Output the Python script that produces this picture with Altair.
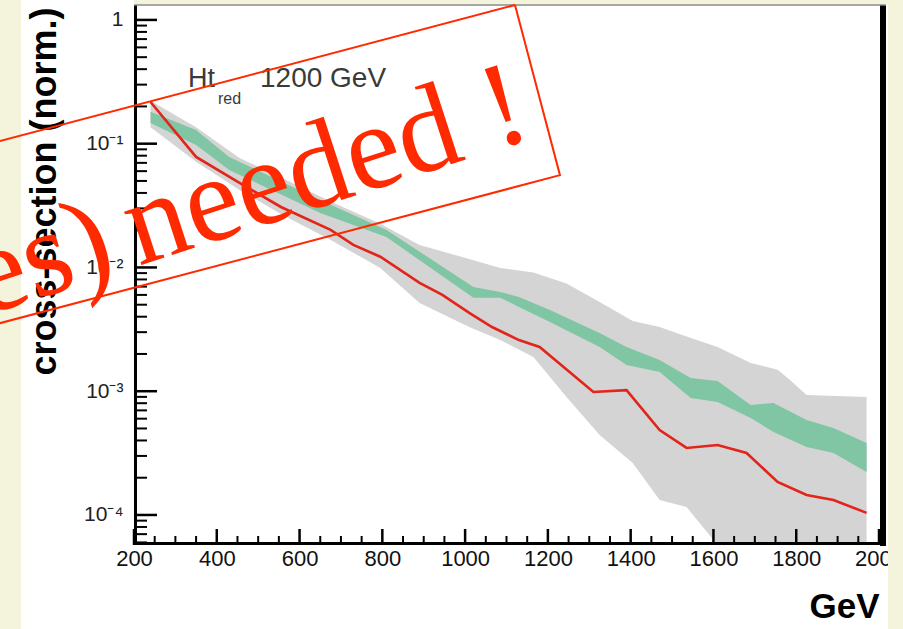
import math
import altair as alt
import pandas as pd

# ---------------- data ----------------
red_gev = [240, 350, 455, 555, 675, 730, 795, 890, 945, 1010, 1065, 1130, 1180,
           1310, 1390, 1470, 1535, 1610, 1680, 1755, 1825, 1890, 1970]
red_val = [0.217, 0.0782, 0.0482, 0.0308, 0.0201, 0.0152, 0.0122, 0.0075, 0.0060,
           0.00429, 0.0033, 0.00259, 0.00228, 0.000986, 0.00102, 0.000486, 0.000348,
           0.000368, 0.000317, 0.000185, 0.000145, 0.000132, 0.000104]

green_gev = [240, 350, 430, 650, 810, 1020, 1085, 1130, 1205, 1325, 1390, 1470,
             1545, 1610, 1690, 1745, 1825, 1890, 1970]
green_hi = [0.181, 0.129, 0.0782, 0.0351, 0.0201, 0.00695, 0.00634, 0.00578, 0.00454,
            0.00296, 0.00228, 0.00179, 0.00128, 0.00121, 0.000774, 0.000804, 0.000586,
            0.000505, 0.000382]
green_lo = [0.147, 0.0977, 0.0614, 0.0275, 0.0176, 0.00568, 0.00568, 0.0048, 0.00363,
            0.00228, 0.00163, 0.00143, 0.000881, 0.000818, 0.000608, 0.000469, 0.000354,
            0.000317, 0.000222]

gray_gev = [240, 350, 455, 555, 675, 795, 890, 1010, 1085, 1165, 1245, 1325, 1405,
            1470, 1535, 1610, 1690, 1755, 1785, 1825, 1970]
gray_hi = [0.222, 0.136, 0.0767, 0.0533, 0.0341, 0.0225, 0.0152, 0.0117, 0.00991,
           0.00912, 0.00743, 0.00526, 0.0037, 0.0033, 0.00277, 0.00228, 0.00169,
           0.00149, 0.00123, 0.000933, 0.000899]
gray_lo = [0.136, 0.0713, 0.0423, 0.027, 0.0167, 0.00991, 0.00516, 0.0033, 0.00259,
           0.00189, 0.000899, 0.000443, 0.000263, 0.000132, 0.000116, 0.0000573,
           0.0000299, 0.0000226, 0.00002, 0.0000171, 0.00000977]

x_major = [200, 400, 600, 800, 1000, 1200, 1400, 1600, 1800, 2000]
x_minor = [v for v in range(250, 2000, 50) if v % 200 != 0]
y_major = [1e-4, 1e-3, 1e-2, 1e-1, 1.0]
y_major_labels = ["10⁻⁴", "10⁻³", "10⁻²", "10⁻¹", "1"]
Y_MIN, Y_MAX = 5.72e-5, 1.32
y_minor = [k * 10.0 ** e for e in range(-5, 1) for k in range(2, 10)
           if Y_MIN <= k * 10.0 ** e <= Y_MAX]

annot_main = "1200 GeV"
annot_var = "Ht"
annot_sub = "red"
stamp_left = "es)"
stamp_right = "needed !"

# ---------------- layout ----------------
W, H = 745, 540
PAD = {"left": 134, "top": 5, "right": 24, "bottom": 84}
RED = "#e3241a"
STAMP = "#ff2a00"
YELLOW = "#f4f4dc"
FONT = "Liberation Sans"

xs = alt.Scale(domain=[200, 2000], nice=False, zero=False)
ys = alt.Scale(type="log", domain=[Y_MIN, Y_MAX], nice=False)

one = pd.DataFrame({"k": [0]})

label_expr = "'" + y_major_labels[0] + "'"
for v, lab in zip(y_major[1:], y_major_labels[1:]):
    label_expr = f"datum.value >= {v * 0.5} ? '{lab}' : ({label_expr})"

red_df = pd.DataFrame({"gev": red_gev, "val": red_val})
green_df = pd.DataFrame({"gev": green_gev, "hi": green_hi, "lo": green_lo})
gray_df = pd.DataFrame({"gev": gray_gev, "hi": gray_hi, "lo": gray_lo})

x_axis = alt.Axis(values=x_major, format="d", domain=False, ticks=False, grid=False,
                  labelFont=FONT, labelFontSize=22, labelColor="#111", labelPadding=3,
                  labelFlush=False, labelOverlap=False,
                  title="GeV", titleFont=FONT, titleFontSize=35, titleFontWeight="bold",
                  titleColor="black", titleX=W, titleY=72, titleAlign="right",
                  titleBaseline="alphabetic")
y_axis = alt.Axis(values=y_major, labelExpr=label_expr, domain=False, ticks=False,
                  grid=False, labelFont=FONT, labelFontSize=21, labelColor="#222",
                  labelPadding=11, labelFlush=False, labelOverlap=False,
                  title="cross-section (norm.)", titleFont=FONT, titleFontSize=36,
                  titleFontWeight="bold", titleColor="black", titleAngle=270,
                  titleX=-79, titleY=186, titleAlign="center", titleBaseline="alphabetic")

# slide background strips (beneath everything)
strip_left = alt.Chart(one).mark_rect(color=YELLOW).encode(
    x=alt.value(-PAD["left"]), x2=alt.value(-PAD["left"] + 21),
    y=alt.value(-PAD["top"]), y2=alt.value(H + PAD["bottom"]))
strip_right = alt.Chart(one).mark_rect(color=YELLOW).encode(
    x=alt.value(W + 9), x2=alt.value(W + PAD["right"]),
    y=alt.value(-PAD["top"]), y2=alt.value(H + PAD["bottom"]))
strip_top = alt.Chart(one).mark_rect(color=YELLOW).encode(
    x=alt.value(0), x2=alt.value(W + 9), y=alt.value(-PAD["top"]), y2=alt.value(-0.5))

# gray band carries the axes
gray = alt.Chart(gray_df).mark_area(color="#d4d4d4", clip=True, interpolate="linear").encode(
    x=alt.X("gev:Q", scale=xs, axis=x_axis),
    y=alt.Y("hi:Q", scale=ys, axis=y_axis),
    y2="lo:Q")

# ticks (inward)
xt_major = alt.Chart(pd.DataFrame({"v": x_major})).mark_rule(color="black", strokeWidth=2.5).encode(
    x=alt.X("v:Q", scale=xs), y=alt.value(H), y2=alt.value(H - 16))
xt_minor = alt.Chart(pd.DataFrame({"v": x_minor})).mark_rule(color="black", strokeWidth=2).encode(
    x=alt.X("v:Q", scale=xs), y=alt.value(H), y2=alt.value(H - 9))
yt_major = alt.Chart(pd.DataFrame({"v": y_major})).mark_rule(color="black", strokeWidth=2.5).encode(
    y=alt.Y("v:Q", scale=ys), x=alt.value(0), x2=alt.value(23))
yt_minor = alt.Chart(pd.DataFrame({"v": y_minor})).mark_rule(color="black", strokeWidth=2).encode(
    y=alt.Y("v:Q", scale=ys), x=alt.value(0), x2=alt.value(13))

left_line = alt.Chart(one).mark_rule(color="black", strokeWidth=3).encode(
    x=alt.value(1.5), y=alt.value(0), y2=alt.value(H))
bottom_line = alt.Chart(one).mark_rule(color="black", strokeWidth=3).encode(
    x=alt.value(0), x2=alt.value(W + 2), y=alt.value(H - 1.5))

green = alt.Chart(green_df).mark_area(color="#80c6a5", clip=True).encode(
    x=alt.X("gev:Q", scale=xs),
    y=alt.Y("hi:Q", scale=ys),
    y2="lo:Q")
red = alt.Chart(red_df).mark_line(color=RED, strokeWidth=2.6, clip=True).encode(
    x=alt.X("gev:Q", scale=xs),
    y=alt.Y("val:Q", scale=ys))

right_frame = alt.Chart(one).mark_rule(color="black", strokeWidth=6).encode(
    x=alt.value(W + 4), y=alt.value(0), y2=alt.value(H + 1))
top_line = alt.Chart(one).mark_rule(color="#8a8a8a", strokeWidth=1.5).encode(
    x=alt.value(0), x2=alt.value(W + 7), y=alt.value(0))

# in-plot label  Ht_red 1200 GeV
t_var = alt.Chart(pd.DataFrame({"t": [annot_var]})).mark_text(
    font=FONT, fontSize=27, color="#3a3a3a", align="left", baseline="alphabetic").encode(
    text="t:N", x=alt.value(54), y=alt.value(82))
t_sub = alt.Chart(pd.DataFrame({"t": [annot_sub]})).mark_text(
    font=FONT, fontSize=16, color="#3a3a3a", align="left", baseline="alphabetic").encode(
    text="t:N", x=alt.value(84), y=alt.value(99))
t_main = alt.Chart(pd.DataFrame({"t": [annot_main]})).mark_text(
    font=FONT, fontSize=28, color="#3a3a3a", align="left", baseline="alphabetic").encode(
    text="t:N", x=alt.value(126), y=alt.value(82))

# rotated stamp box
BOX_ANGLE = 14.8          # degrees, rising to the right
TEXT_ANGLE = 18.0
BOX_RIGHT_TOP = (381, 0)  # top right corner (plot pixels)
BOX_H = 176
BOX_LEN = 700
a = math.radians(BOX_ANGLE)
along = (-math.cos(a), math.sin(a))   # leftwards along the box
down = (math.sin(a), math.cos(a))     # perpendicular, downwards
tr = BOX_RIGHT_TOP
br = (tr[0] + BOX_H * down[0], tr[1] + BOX_H * down[1])
bl = (br[0] + BOX_LEN * along[0], br[1] + BOX_LEN * along[1])
tl = (tr[0] + BOX_LEN * along[0], tr[1] + BOX_LEN * along[1])
box_df = pd.DataFrame({"px": [tr[0], br[0], bl[0], tl[0], tr[0]],
                       "py": [tr[1], br[1], bl[1], tl[1], tr[1]],
                       "o": [0, 1, 2, 3, 4]})
box = alt.Chart(box_df).mark_line(color=STAMP, strokeWidth=2, clip=False).encode(
    x=alt.X("px:Q", scale=None, axis=None), y=alt.Y("py:Q", scale=None, axis=None),
    order="o:Q")

STAMP_SIZE = 122
STAMP_END = (401, 132)          # right end of the baseline (plot pixels)
ta = math.radians(TEXT_ANGLE)
base_dir = (math.cos(ta), -math.sin(ta))
right_len = 3.415 * STAMP_SIZE  # advance of "needed !" in Times metrics
gap = 0.17 * STAMP_SIZE
left_end = (STAMP_END[0] - (right_len + gap) * base_dir[0],
            STAMP_END[1] - (right_len + gap) * base_dir[1])

stamp_r = alt.Chart(pd.DataFrame({"t": [stamp_right]})).mark_text(
    font="Liberation Serif", fontSize=STAMP_SIZE, color=STAMP, align="right",
    baseline="alphabetic", angle=360 - TEXT_ANGLE).encode(
    text="t:N", x=alt.value(STAMP_END[0]), y=alt.value(STAMP_END[1]))
stamp_l = alt.Chart(pd.DataFrame({"t": [stamp_left]})).mark_text(
    font="Liberation Serif", fontSize=STAMP_SIZE, color=STAMP, align="right",
    baseline="alphabetic", angle=360 - TEXT_ANGLE).encode(
    text="t:N", x=alt.value(left_end[0]), y=alt.value(left_end[1]))

chart = alt.layer(
    gray, strip_left, strip_right, strip_top,
    xt_major, xt_minor, yt_major, yt_minor, left_line, bottom_line,
    green, red, right_frame, top_line,
    t_var, t_sub, t_main, box, stamp_r, stamp_l,
).properties(
    width=W, height=H,
    autosize=alt.AutoSizeParams(type="none"),
    padding=PAD, background="white",
).configure_view(stroke=None)

chart.save("out.html", embed_options={"renderer": "svg", "actions": False})
